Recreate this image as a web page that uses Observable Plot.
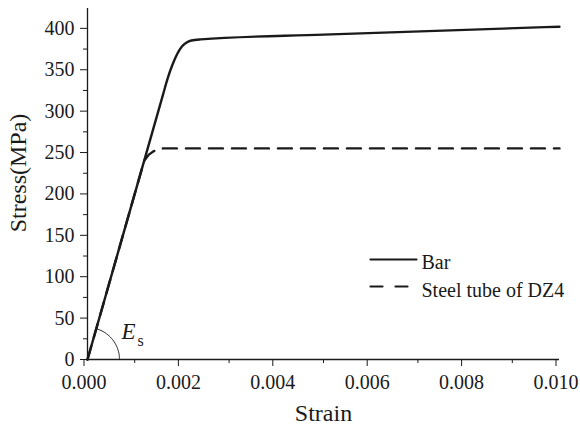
<!DOCTYPE html>
<html>
<head>
<meta charset="utf-8">
<script src="https://cdn.jsdelivr.net/npm/d3@7"></script>
<script src="https://cdn.jsdelivr.net/npm/@observablehq/plot@0.6"></script>
<style>
  html, body { margin: 0; padding: 0; background: #fff; }
  #chart { width: 580px; height: 425px; }
</style>
</head>
<body>
<div id="chart"></div>
<script>
// ---- data ----
const barStrain   = [0, 0.0008, 0.0016, 0.0017, 0.0018, 0.0019, 0.0020, 0.0021, 0.0022, 0.0024, 0.0050, 0.0100];
const barStress   = [0, 160,    320,    340,    356,    369,    378,    383,    385.3,  386.7,  392.5,  402];
const tubeStrain  = [0, 0.0012, 0.0013, 0.0014, 0.0015, 0.0016, 0.0100];
const tubeStress  = [0, 240,    247.5,  251.5,  254,    255,    255];
const seriesNames = ["Bar", "Steel tube of DZ4"];
const xTicks      = [0, 0.002, 0.004, 0.006, 0.008, 0.010];
const xMinorTicks = [0.001, 0.003, 0.005, 0.007, 0.009];
const yTicks      = [0, 50, 100, 150, 200, 250, 300, 350, 400];
const yMinorTicks = [25, 75, 125, 175, 225, 275, 325, 375];
const modulus     = 200000; // MPa, initial slope (E_s)

// ---- layout ----
const W = 580, H = 425;
const mL = 87, mR = 21, mT = 8, mB = 66;
const xDomain = [0, 0.010], yDomain = [0, 424];
const kx = (W - mL - mR) / (xDomain[1] - xDomain[0]);
const ky = (H - mT - mB) / (yDomain[1] - yDomain[0]);
const px2x = p => p / kx, px2y = p => p / ky;
const y0px = H - mB;
const FONT = "'Liberation Serif', 'DejaVu Serif', 'Noto Serif', serif";

const bar = barStrain.map((s, i) => ({strain: s, stress: barStress[i]}));
const tube = tubeStrain.map((s, i) => ({strain: s, stress: tubeStress[i]}));

// E_s arc annotation (radius in pixels, converted to data units)
const rPx = 32;
const theta = Math.atan(modulus * ky / kx);
const arc = d3.range(0, 41).map(i => {
  const t = theta * i / 40;
  return {strain: px2x(rPx * Math.cos(t)), stress: px2y(rPx * Math.sin(t))};
});

// legend geometry
const legX0 = px2x(370 - mL), legX1 = px2x(416 - mL), legTx = px2x(421 - mL);
const legY = [px2y(y0px - 259), px2y(y0px - 286)];
const legTy = [px2y(y0px - 262.5), px2y(y0px - 290.5)];
const ink = "#1a1a1a";

const chart = Plot.plot({
  width: W, height: H,
  marginLeft: mL, marginRight: mR, marginTop: mT, marginBottom: mB,
  style: {fontSize: "20px", color: ink, background: "#fff"},
  x: {domain: xDomain},
  y: {domain: yDomain},
  marks: [
    Plot.axisY(yMinorTicks, {tickSize: 4, tickFormat: () => "", label: null, stroke: ink}),
    Plot.axisY(yTicks, {tickSize: 7, tickPadding: 6, fontSize: 20, label: null, stroke: ink}),
    Plot.axisX(xMinorTicks, {tickSize: 4, tickFormat: () => "", label: null, stroke: ink}),
    Plot.axisX(xTicks, {tickSize: 7, tickPadding: 8, fontSize: 20, dx: -3.5, tickFormat: d3.format(".3f"), label: null, stroke: ink}),
    Plot.ruleX([0], {stroke: ink, strokeWidth: 1.3}),
    Plot.ruleY([0], {stroke: ink, strokeWidth: 1.3}),
    Plot.line(tube, {x: "strain", y: "stress", stroke: ink, strokeWidth: 2.4, strokeDasharray: "14,9", curve: "linear"}),
    Plot.line(bar, {x: "strain", y: "stress", stroke: ink, strokeWidth: 2.4, curve: "monotone-x"}),
    Plot.line(arc, {x: "strain", y: "stress", stroke: ink, strokeWidth: 1}),
    Plot.text(["E"], {x: px2x(121 - mL), y: px2y(y0px - 331), text: d => d, textAnchor: "start", lineAnchor: "middle", fontSize: 23, fontStyle: "italic", fill: ink}),
    Plot.text(["s"], {x: px2x(137 - mL), y: px2y(y0px - 340), text: d => d, textAnchor: "start", lineAnchor: "middle", fontSize: 16, fill: ink}),
    // legend
    Plot.line([{strain: legX0, stress: legY[0]}, {strain: legX1, stress: legY[0]}], {x: "strain", y: "stress", stroke: ink, strokeWidth: 2.2}),
    Plot.line([{strain: legX0, stress: legY[1]}, {strain: legX1 - px2x(8), stress: legY[1]}], {x: "strain", y: "stress", stroke: ink, strokeWidth: 2.2, strokeDasharray: "12,13"}),
    Plot.text(seriesNames, {x: legTx, y: (d, i) => legTy[i], text: d => d, textAnchor: "start", lineAnchor: "middle", fontSize: 20, fill: ink}),
    // axis titles
    Plot.text(["Strain"], {frameAnchor: "bottom", dy: 54, text: d => d, lineAnchor: "middle", textAnchor: "middle", fontSize: 24, fill: ink}),
    Plot.text(["Stress(MPa)"], {frameAnchor: "left", dx: -69, dy: -11, rotate: -90, text: d => d, lineAnchor: "middle", textAnchor: "middle", fontSize: 24, fill: ink})
  ]
});
chart.setAttribute("font-family", FONT);
d3.select(chart).selectAll("g, text").attr("font-family", FONT).style("font-family", FONT);
document.getElementById("chart").appendChild(chart);
</script>
</body>
</html>
